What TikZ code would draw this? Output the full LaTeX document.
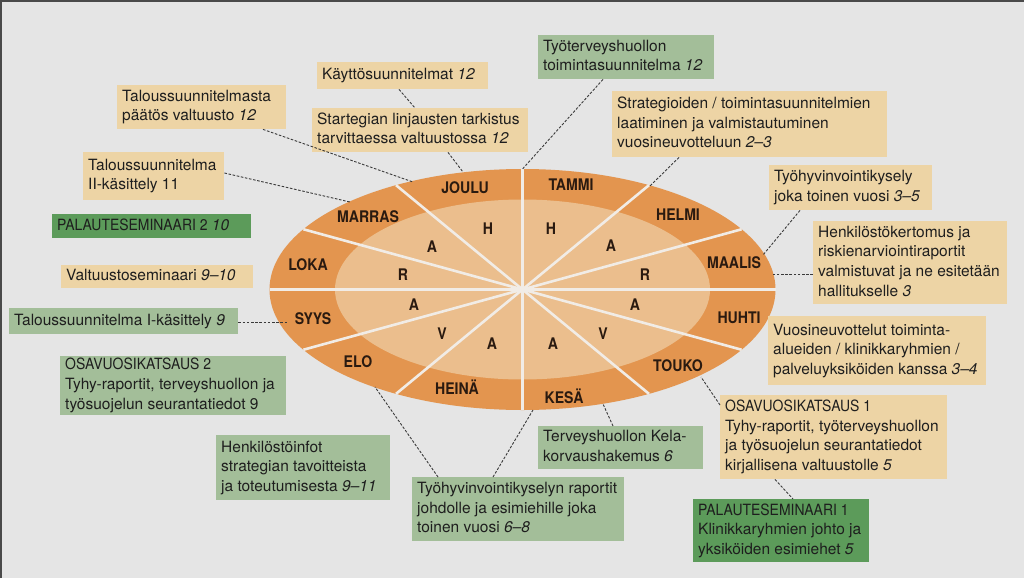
\documentclass[tikz,border=0pt]{standalone}
\usepackage{fontspec}
\setmainfont{TeX Gyre Heros}
\newfontfamily\capsfont[FakeStretch=0.9]{TeX Gyre Heros}
\newfontfamily\monfamily[FakeStretch=0.88]{TeX Gyre Heros}
\usetikzlibrary{calc}
\definecolor{bgc}{HTML}{E5E5E5}
\definecolor{framec}{HTML}{4A4A4A}
\definecolor{ringc}{HTML}{E3954F}
\definecolor{innerc}{HTML}{EBBE8D}
\definecolor{divc}{HTML}{F1ECE6}
\definecolor{beigec}{HTML}{EDD4A5}
\definecolor{lgreenc}{HTML}{A3BE99}
\definecolor{dgreenc}{HTML}{5C9B5A}
\definecolor{txtc}{HTML}{1E1E1E}
\definecolor{montxt}{HTML}{2A1A10}
\definecolor{dashc}{HTML}{3A3A3A}
\newcommand\boxfont{\fontsize{15.5}{19.6}\selectfont}
\newcommand\monfont{\monfamily\fontsize{16}{17}\selectfont\bfseries}
\newcommand\bt[2]{\makebox[#1][l]{\begin{tabular}{@{}l@{}}#2\end{tabular}}}
\newcommand\cp[1]{{\capsfont #1}}
\tikzset{
  bx/.style={fill=#1, anchor=north west, inner xsep=5pt, inner ysep=0pt, font=\boxfont, text=txtc},
  mon/.style={font=\monfont, text=montxt, inner sep=0pt},
  divl/.style={draw=divc, line width=2.6pt},
  conn/.style={draw=dashc, line width=0.9pt, dash pattern=on 2.6pt off 1.6pt}
}
\begin{document}
\begin{tikzpicture}[x=1pt,y=-1pt]
\useasboundingbox (0,0) rectangle (1024,578);
\fill[bgc] (0,0) rectangle (1024,578);
\draw[framec, line width=2pt] (1,578) -- (1,1) -- (1024,1);

% wheel
\coordinate (c) at (522.5,289.5);
\fill[ringc] (c) ellipse [x radius=253pt, y radius=120.5pt];
\fill[innerc] (c) ellipse [x radius=187.5pt, y radius=90pt];
\foreach \t in {0,30,...,330}
  \draw[divl] (c) -- ({522.5+253*cos(\t)},{289.5-120.5*sin(\t)});

% months
\node[mon] (joulu) at (465,188) {JOULU};
\node[mon] (tammi) at (571,185) {TAMMI};
\node[mon] (helmi) at (678,215) {HELMI};
\node[mon] (maalis) at (734,263) {MAALIS};
\node[mon] (huhti) at (739,318) {HUHTI};
\node[mon] (touko) at (678,366) {TOUKO};
\node[mon] (kesa) at (564,396) {KESÄ};
\node[mon] (heina) at (457,387) {HEINÄ};
\node[mon] (elo) at (358,362) {ELO};
\node[mon] (syys) at (313,319) {SYYS};
\node[mon] (loka) at (308,265) {LOKA};
\node[mon] (marras) at (368,217) {MARRAS};

% inner letters
\node[mon] (l1) at (488,229) {H};
\node[mon] (l2) at (432,247) {A};
\node[mon] (l3) at (403,275) {R};
\node[mon] (l4) at (414,305) {A};
\node[mon] (l5) at (442,334) {V};
\node[mon] (l6) at (492,344) {A};
\node[mon] (r1) at (551,229) {H};
\node[mon] (r2) at (611,246) {A};
\node[mon] (r3) at (645,275) {R};
\node[mon] (r4) at (635,305) {A};
\node[mon] (r5) at (603,334) {V};
\node[mon] (r6) at (553,344) {A};

% boxes
\node[bx=beigec, minimum height=27pt] (kayt) at (317,62) {\bt{161pt}{Käyttösuunnitelmat \textit{12}}};
\node[bx=beigec, minimum height=44pt] (talpaat) at (117,85) {\bt{159pt}{Taloussuunnitelmasta\\päätös valtuusto \textit{12}}};
\node[bx=beigec, minimum height=44pt] (start) at (312,108) {\bt{206pt}{Startegian linjausten tarkistus\\tarvittaessa valtuustossa \textit{12}}};
\node[bx=lgreenc, minimum height=44pt] (tyoterv) at (538,35) {\bt{166pt}{Työterveyshuollon\\toimintasuunnitelma \textit{12}}};
\node[bx=beigec, minimum height=66pt] (strat) at (612,91) {\bt{265pt}{Strategioiden / toimintasuunnitelmien\\laatiminen ja valmistautuminen\\vuosineuvotteluun \textit{2–3}}};
\node[bx=beigec, minimum height=45pt] (tyohyv) at (769,165) {\bt{153pt}{Työhyvinvointikysely\\joka toinen vuosi \textit{3–5}}};
\node[bx=beigec, minimum height=83pt] (henk) at (813,221) {\bt{184pt}{Henkilöstökertomus ja\\riskienarviointiraportit\\valmistuvat ja ne esitetään\\hallitukselle \textit{3}}};
\node[bx=beigec, minimum height=69pt] (vuosi) at (768,316) {\bt{208pt}{Vuosineuvottelut toiminta-\\alueiden / klinikkaryhmien /\\palveluyksiköiden kanssa \textit{3–4}}};
\node[bx=beigec, minimum height=84pt] (osa1) at (720,395) {\bt{217pt}{\cp{OSAVUOSIKATSAUS 1}\\Tyhy-raportit, työterveyshuollon\\ja työsuojelun seurantatiedot\\kirjallisena valtuustolle \textit{5}}};
\node[bx=dgreenc, minimum height=63pt] (pal1) at (693,499) {\bt{166pt}{\cp{PALAUTESEMINAARI 1}\\Klinikkaryhmien johto ja\\yksiköiden esimiehet \textit{5}}};
\node[bx=lgreenc, minimum height=43pt] (kela) at (538,426) {\bt{155pt}{Terveyshuollon Kela-\\korvaushakemus \textit{6}}};
\node[bx=lgreenc, minimum height=64pt] (tyorap) at (412,477) {\bt{202pt}{Työhyvinvointikyselyn raportit\\johdolle ja esimiehille joka\\toinen vuosi \textit{6–8}}};
\node[bx=lgreenc, minimum height=65pt] (info) at (216,435) {\bt{164pt}{Henkilöstöinfot\\strategian tavoitteista\\ja toteutumisesta \textit{9–11}}};
\node[bx=lgreenc, minimum height=58pt] (osa2) at (60,356) {\bt{216pt}{\cp{OSAVUOSIKATSAUS 2}\\Tyhy-raportit, terveyshuollon ja\\työsuojelun seurantatiedot 9}};
\node[bx=lgreenc, minimum height=26pt] (tal1) at (9,308) {\bt{219pt}{Taloussuunnitelma I-käsittely \textit{9}}};
\node[bx=beigec, minimum height=23pt] (valt) at (61,265) {\bt{182pt}{Valtuustoseminaari \textit{9–10}}};
\node[bx=dgreenc, minimum height=24pt] (pal2) at (52,214) {\bt{189pt}{\cp{PALAUTESEMINAARI 2} \textit{10}}};
\node[bx=beigec, minimum height=48pt] (tal2) at (83,152) {\bt{131pt}{Taloussuunnitelma\\II-käsittely 11}};

% connector ends on the wheel
\coordinate (eJoulu) at (463,172);
\coordinate (eTop) at (522.5,169);
\coordinate (eJouluL) at (413,182);
\coordinate (eMarras) at (350,202);
\coordinate (eHelmi) at (650,186);
\coordinate (eMaalisT) at (763,255);
\coordinate (eMaalis) at (772,274);
\coordinate (eSyys) at (287,322);
\coordinate (eTouko) at (701,377);
\coordinate (eKesa) at (603,404);
\coordinate (eBottom) at (533,410);
\coordinate (eElo) at (375,387);

% connectors
\draw[conn] ([xshift=82pt]kayt.south west) -- ([xshift=103pt]start.north west);
\draw[conn] ([xshift=136pt]start.south west) -- (eJoulu);
\draw[conn] ([xshift=65pt]tyoterv.south west) -- (eTop);
\draw[conn] ([xshift=146pt]talpaat.south west) -- (eJouluL);
\draw[conn] ([yshift=-21pt]tal2.north east) -- (eMarras);
\draw[conn] ([xshift=67pt]strat.south west) -- (eHelmi);
\draw[conn] ([xshift=31pt]tyohyv.south west) -- (eMaalisT);
\draw[conn] ([yshift=-53pt]henk.north west) -- (eMaalis);
\draw[conn] ([yshift=-14pt]tal1.north east) -- (eSyys);
\draw[conn] ([yshift=-10pt]osa1.north west) -- (eTouko);
\draw[conn] ([xshift=55pt]osa1.south west) -- ([xshift=100pt]pal1.north west);
\draw[conn] ([xshift=75pt]kela.north west) -- (eKesa);
\draw[conn] ([xshift=81pt]tyorap.north west) -- (eBottom);
\draw[conn] ([xshift=26pt]tyorap.north west) -- (eElo);
\end{tikzpicture}
\end{document}
